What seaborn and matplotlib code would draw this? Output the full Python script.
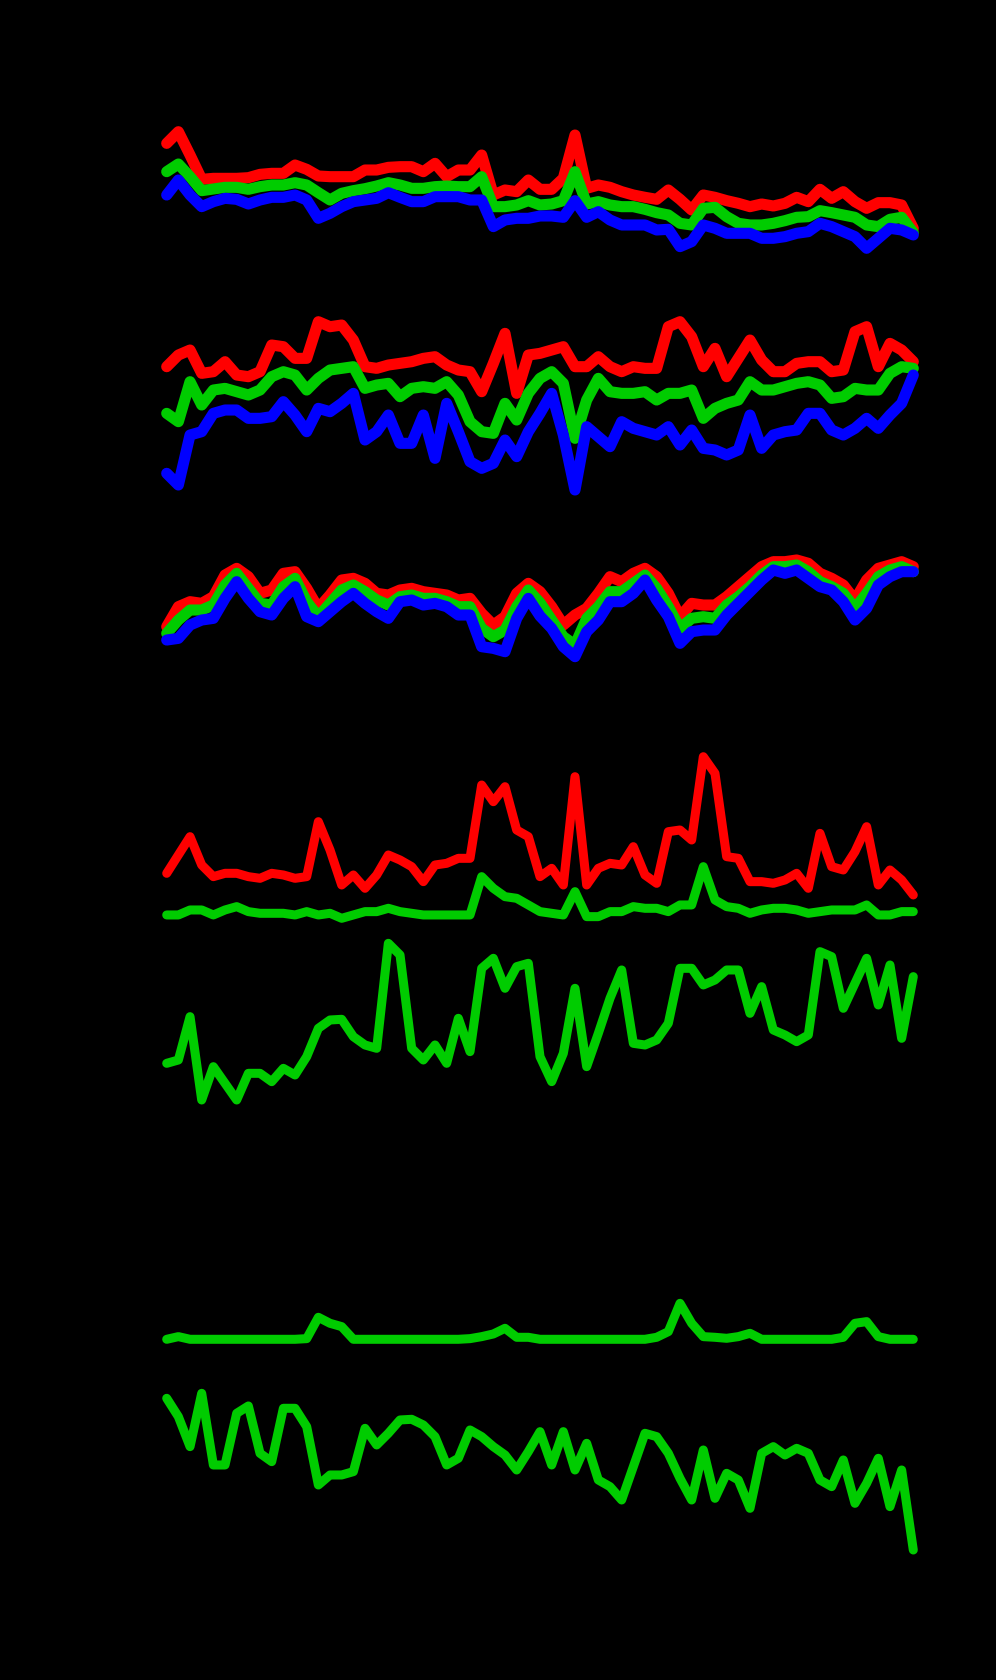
import numpy as np
import pandas as pd
import matplotlib
matplotlib.use("Agg")
import matplotlib.pyplot as plt
import seaborn as sns

# sample index (65 samples)
idx = np.arange(65)

# panel 1 - three channels
p1_red = [40.0, 43.5, 36.5, 29.2, 29.5, 29.5, 29.5, 29.7, 30.7, 31.0, 31.0, 33.5, 32.2, 30.2, 30.0, 30.0, 30.0,
          32.0, 32.0, 32.8, 33.0, 33.0, 31.5, 34.0, 30.0, 32.0, 32.0, 36.5, 24.5, 26.0, 25.5, 29.0, 26.2,
          26.2, 29.5, 42.5, 26.5, 27.5, 26.8, 25.5, 24.5, 23.8, 23.2, 26.0, 23.2, 20.0, 24.5, 23.8, 22.8,
          22.0, 21.0, 21.8, 21.2, 22.0, 23.8, 22.5, 26.2, 23.5, 25.5, 22.5, 20.5, 22.2, 22.2, 21.5, 14.5]
p1_green = [31.5, 33.8, 30.0, 25.8, 26.3, 26.8, 26.8, 26.2, 27.0, 27.5, 27.5, 28.2, 27.5, 25.2, 23.0, 25.0, 25.8,
            26.4, 27.2, 28.2, 27.5, 26.5, 26.5, 27.0, 27.2, 27.0, 27.0, 30.0, 21.0, 21.0, 21.5, 22.8, 21.5,
            21.8, 22.8, 31.5, 21.8, 22.5, 21.5, 21.0, 21.0, 20.2, 19.2, 18.5, 16.0, 15.5, 20.5, 20.8, 18.0,
            16.0, 15.5, 15.5, 16.0, 16.8, 17.8, 18.0, 19.8, 19.2, 18.5, 17.8, 15.5, 15.0, 17.2, 17.8, 13.2]
p1_blue = [24.5, 29.0, 24.5, 21.0, 22.5, 23.5, 23.2, 21.8, 23.0, 23.8, 23.8, 24.5, 23.0, 17.5, 19.0, 21.0, 22.5,
           23.0, 23.5, 25.2, 23.8, 22.5, 22.5, 24.0, 24.0, 24.0, 23.0, 23.0, 15.0, 17.0, 17.5, 17.5, 18.2,
           18.2, 17.8, 22.8, 17.8, 19.5, 17.0, 15.5, 15.5, 15.5, 14.0, 14.2, 9.0, 10.5, 15.5, 14.5, 13.0,
           13.0, 13.0, 11.5, 11.5, 12.0, 13.0, 13.5, 16.0, 15.0, 13.5, 12.0, 8.5, 11.5, 14.5, 14.0, 12.5]

# panel 2 - three channels
p2_red = [43.0, 46.5, 48.0, 41.0, 41.5, 44.5, 40.5, 40.0, 41.5, 49.5, 49.0, 45.5, 45.5, 56.5, 55.0, 55.5, 51.0,
          43.0, 42.5, 43.5, 44.0, 44.5, 45.5, 46.0, 43.5, 42.0, 41.5, 35.5, 44.0, 53.0, 35.0, 46.5, 47.0,
          48.0, 49.0, 43.0, 43.0, 46.0, 43.0, 41.5, 43.0, 42.5, 42.5, 55.0, 56.5, 52.0, 43.0, 48.5, 40.0,
          45.5, 51.0, 45.0, 41.5, 41.5, 44.0, 44.5, 44.5, 41.5, 42.0, 53.5, 55.0, 43.0, 50.0, 48.0, 44.5]
p2_green = [29.0, 26.5, 38.5, 31.5, 36.0, 36.5, 35.5, 34.5, 36.0, 40.0, 41.5, 40.5, 36.0, 39.5, 42.0, 42.5, 43.0,
            36.5, 37.5, 38.0, 34.0, 36.5, 37.0, 36.5, 38.5, 34.5, 26.5, 23.5, 23.0, 32.0, 27.0, 35.0, 39.5,
            41.5, 38.0, 21.5, 33.0, 39.5, 35.5, 35.0, 35.0, 35.5, 33.0, 35.0, 35.0, 36.0, 27.5, 30.5, 32.0,
            33.0, 38.5, 36.0, 36.0, 37.0, 38.0, 38.5, 37.5, 33.5, 34.0, 36.5, 36.0, 36.0, 41.0, 43.0, 42.5]
p2_blue = [11.0, 7.5, 22.5, 23.5, 29.0, 30.0, 30.0, 27.5, 27.5, 28.0, 32.5, 28.5, 23.5, 30.5, 29.5, 32.0, 35.0,
           21.0, 23.5, 28.5, 20.0, 20.0, 28.5, 15.5, 32.0, 23.5, 14.5, 12.5, 14.0, 21.0, 16.0, 23.5, 29.0,
           35.0, 22.5, 6.0, 25.0, 22.0, 19.0, 26.5, 24.5, 23.5, 22.5, 25.0, 19.5, 24.0, 18.5, 18.0, 16.5,
           18.0, 28.5, 18.5, 22.5, 23.5, 24.0, 29.0, 29.0, 24.0, 22.5, 24.5, 27.5, 24.5, 28.5, 32.0, 40.5]

# panel 3 - three channels
p3_red = [14.0, 20.0, 21.5, 21.0, 23.0, 29.5, 31.5, 29.0, 24.0, 25.0, 30.0, 30.5, 25.5, 19.5, 23.5, 28.0, 28.5,
          27.0, 24.0, 23.5, 25.0, 25.5, 24.5, 24.0, 23.5, 22.0, 22.5, 18.0, 14.5, 17.0, 24.0, 27.0, 24.5,
          20.0, 14.5, 17.5, 19.5, 24.0, 29.0, 27.5, 30.0, 31.5, 29.0, 24.0, 17.0, 21.0, 20.5, 20.5, 23.0,
          26.0, 29.0, 32.0, 33.5, 33.5, 34.0, 33.0, 30.0, 28.5, 26.5, 22.0, 28.0, 31.5, 32.5, 33.5, 32.0]
p3_green = [12.0, 16.0, 19.0, 19.0, 20.5, 26.5, 30.0, 25.5, 21.0, 20.5, 26.0, 28.5, 21.5, 17.0, 21.0, 25.0, 26.5,
            24.5, 22.0, 20.5, 23.0, 23.5, 22.5, 22.5, 21.5, 20.0, 20.0, 13.5, 11.0, 13.0, 20.0, 25.0, 21.2,
            16.0, 11.0, 8.5, 16.5, 20.0, 24.5, 24.5, 27.0, 29.5, 25.5, 20.0, 13.5, 16.5, 17.0, 16.5, 20.5,
            23.0, 26.0, 29.5, 32.0, 32.0, 32.5, 30.5, 27.5, 26.0, 24.0, 19.5, 24.0, 29.0, 31.0, 32.0, 30.5]
p3_blue = [10.0, 10.5, 14.5, 16.0, 16.5, 22.5, 27.5, 22.5, 18.5, 17.5, 22.5, 26.0, 17.0, 15.5, 18.5, 21.5, 24.0,
           21.0, 18.5, 16.5, 21.5, 22.0, 20.5, 21.0, 20.0, 17.5, 17.5, 8.0, 7.5, 6.5, 16.5, 22.5, 17.2,
           13.5, 8.0, 5.0, 12.5, 16.0, 21.5, 21.5, 24.0, 28.0, 22.0, 17.0, 9.0, 12.5, 13.0, 13.0, 17.5,
           21.0, 24.5, 28.0, 31.0, 30.0, 31.0, 28.5, 26.0, 25.0, 21.5, 16.0, 19.5, 26.5, 29.0, 30.5, 30.5]

# panel 4 - two series
p4_red = [20.0, 25.5, 31.0, 22.5, 19.0, 20.0, 20.0, 19.0, 18.5, 20.0, 19.5, 18.5, 19.0, 35.5, 27.0, 16.5, 19.5,
          15.5, 19.5, 25.5, 24.0, 22.0, 17.5, 22.5, 23.0, 24.5, 24.5, 46.5, 41.5, 46.0, 33.0, 31.0, 19.0,
          21.5, 16.5, 49.0, 16.5, 21.5, 23.0, 22.5, 28.0, 19.5, 17.0, 32.5, 33.0, 30.0, 55.0, 50.0, 25.0,
          24.5, 17.5, 17.5, 17.0, 18.0, 20.0, 15.5, 32.0, 22.0, 21.0, 26.5, 34.0, 16.5, 21.0, 18.0, 13.5]
p4_green = [7.5, 7.5, 9.0, 9.0, 7.5, 9.0, 10.0, 8.5, 8.0, 8.0, 8.0, 7.5, 8.5, 7.5, 8.0, 6.5, 7.5,
            8.5, 8.5, 9.5, 8.5, 8.0, 7.5, 7.5, 7.5, 7.5, 7.5, 19.0, 15.5, 13.0, 12.5, 10.5, 8.5,
            8.0, 7.5, 14.5, 7.0, 7.0, 8.5, 8.5, 10.0, 9.5, 9.5, 8.5, 10.5, 10.5, 22.0, 12.0, 10.0,
            9.5, 8.0, 9.0, 9.5, 9.5, 9.0, 8.0, 8.5, 9.0, 9.0, 9.0, 10.5, 7.5, 7.5, 8.5, 8.5]

# panel 5
p5_green = [17.0, 18.0, 31.0, 6.0, 16.0, 11.0, 6.0, 14.0, 14.0, 11.5, 15.5, 13.5, 19.0, 27.5, 30.0, 30.2, 25.0,
            22.5, 21.5, 53.0, 49.5, 21.5, 18.0, 22.5, 17.0, 30.5, 20.5, 45.5, 48.5, 39.5, 46.0, 47.0, 19.0,
            11.5, 20.0, 39.5, 16.0, 26.0, 36.5, 45.0, 23.0, 22.5, 24.0, 29.0, 45.5, 45.5, 40.5, 42.0, 45.0,
            45.0, 32.0, 40.0, 27.0, 25.5, 23.5, 25.5, 50.5, 49.0, 33.5, 41.0, 48.5, 34.5, 46.5, 24.5, 43.0]

# panel 6
p6_green = [0, 0.8, 0, 0, 0, 0, 0, 0, 0, 0, 0, 0, 0.2, 6.6, 4.8, 3.8, 0,
            0, 0, 0, 0, 0, 0, 0, 0, 0, 0.2, 0.8, 1.6, 3.3, 0.6, 0.6, 0,
            0, 0, 0, 0, 0, 0, 0, 0, 0, 0.6, 2.3, 10.8, 4.8, 0.8, 0.6, 0.3,
            0.8, 1.8, 0, 0, 0, 0, 0, 0, 0, 0.6, 4.8, 5.3, 0.8, 0, 0, 0]

# panel 7
p7_green = [54.5, 49.0, 40.0, 56.0, 34.5, 34.5, 50.0, 52.2, 38.0, 35.5, 51.5, 51.5, 46.0, 28.5, 31.5, 31.5, 32.5,
            45.5, 40.5, 44.0, 48.0, 48.2, 46.5, 43.0, 34.5, 36.5, 45.0, 43.0, 40.0, 37.5, 33.0, 38.5, 44.5,
            34.5, 44.5, 33.0, 41.0, 30.0, 28.0, 24.0, 34.0, 44.0, 43.0, 38.0, 30.5, 24.0, 39.0, 24.5, 32.0,
            30.0, 21.5, 38.0, 40.0, 37.5, 39.5, 38.0, 30.0, 28.0, 36.0, 23.0, 29.0, 36.5, 22.0, 33.0, 9.0]

RED, GREEN, BLUE = "#ff0000", "#00cc00", "#0000ff"

# series, colours, vertical pixel span (top, bottom), line width
panels = [
    ([p1_red, p1_green, p1_blue], [RED, GREEN, BLUE], (131.7, 248.3), 8.0),
    ([p2_red, p2_green, p2_blue], [RED, GREEN, BLUE], (321.7, 490.0), 8.0),
    ([p3_red, p3_green, p3_blue], [RED, GREEN, BLUE], (560.0, 656.7), 8.0),
    ([p4_red, p4_green], [RED, GREEN], (756.7, 918.3), 6.5),
    ([p5_green], [GREEN], (943.3, 1100.0), 6.5),
    ([p6_green], [GREEN], (1303.3, 1339.3), 6.5),
    ([p7_green], [GREEN], (1393.3, 1550.0), 6.5),
]

sns.set_theme(style="dark", rc={"axes.facecolor": "black", "figure.facecolor": "black"})

W, H = 996, 1680
fig = plt.figure(figsize=(W / 100, H / 100), dpi=100)
x_left, x_right = 166.7, 913.3

for series, colors, (top, bottom), lw in panels:
    ax = fig.add_axes([x_left / W, 1 - bottom / H, (x_right - x_left) / W, (bottom - top) / H])
    lo = min(min(s) for s in series)
    hi = max(max(s) for s in series)
    for s, c in zip(series, colors):
        df = pd.DataFrame({"sample": idx, "value": s})
        sns.lineplot(data=df, x="sample", y="value", ax=ax, color=c, linewidth=lw)
    for ln in ax.lines:
        ln.set_clip_on(False)
    ax.set_xlim(0, 64)
    ax.set_ylim(lo, hi)
    ax.set_axis_off()

fig.savefig("out.png", dpi=100, facecolor="black")
